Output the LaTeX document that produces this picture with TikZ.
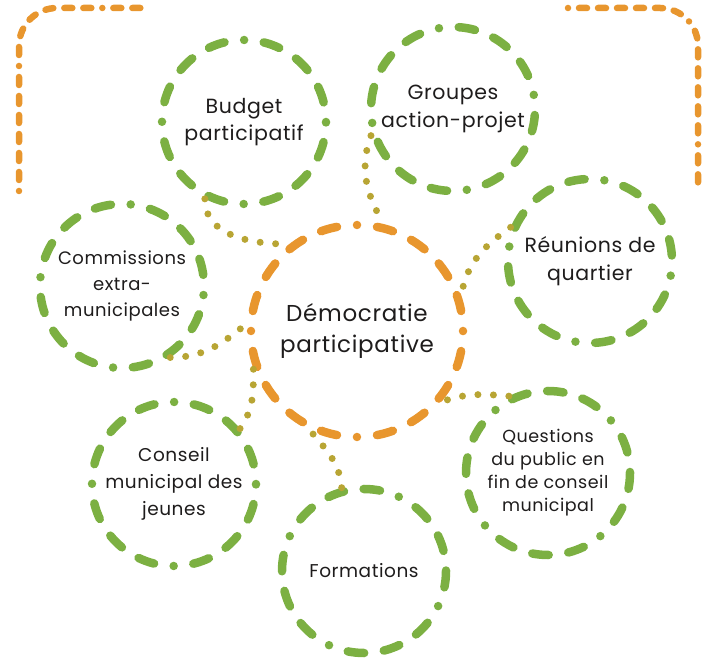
\documentclass[tikz,border=0pt]{standalone}
\usepackage{fontspec}
\setmainfont{Poppins}[LetterSpace=3.0]
\usepackage{xcolor}

\definecolor{leafgreen}{RGB}{124,176,66}
\definecolor{ochre}{RGB}{232,150,46}
\definecolor{linkdot}{RGB}{184,165,52}
\definecolor{inkgray}{RGB}{30,28,28}

\begin{document}
\begin{tikzpicture}[x=1pt, y=1pt,
        ring/.style={circle, draw=leafgreen, line width=8.5pt, line cap=round,
            minimum size=164pt, inner sep=0pt, align=center, text=inkgray,
            font=\fontsize{20.5}{27.5}\selectfont,
            dash pattern=on 0pt off 19.8pt on 16.5pt off 19.8pt on 16.5pt off 19.8pt on 16.5pt off 19.8pt},
        hub/.style={ring, draw=ochre, minimum size=212pt, font=\fontsize{23}{31}\selectfont,
            dash pattern=on 0pt off 20.1pt on 16.5pt off 20.1pt on 16.5pt off 20.1pt on 16.5pt off 20.1pt on 16.5pt off 20.1pt},
        link/.style={draw=linkdot, line width=7pt, line cap=round, dash pattern=on 0pt off 15.5pt},
        frame/.style={draw=ochre, line width=6.5pt, line cap=round, rounded corners=38pt,
            dash pattern=on 0pt off 11pt on 8pt off 11pt on 8pt off 11pt on 8pt off 11pt on 8pt off 11pt on 8pt off 11pt on 8pt off 11pt}
    ]
        \useasboundingbox (0,0) rectangle (711,658);

        % Corner brackets
        \draw[frame] (19,467) -- (19,650) -- (148,650);
        \draw[frame] (568,650) -- (698,650) -- (698,467);

        % Centre circle
        \node[hub] (hub) at (357,327) {Démocratie\\participative};

        % Surrounding circles
        \node[ring] (budget) at (244,536) {Budget\\participatif};
        \node[ring, dash phase=114.5pt] (groupes) at (453,549) {Groupes\\action-projet};
        \node[ring, dash phase=14.3pt] (reunions) at (590,397) {Réunions de\\quartier};
        \node[ring, dash phase=8.6pt, font=\fontsize{18}{26}\selectfont] (commissions) at (122,372)
            {Commissions\\extra-\\municipales};
        \node[ring, font=\fontsize{18.5}{27}\selectfont] (conseil) at (174,174) {Conseil\\municipal des\\jeunes};
        \node[ring, dash phase=35.8pt, font=\fontsize{18.5}{27}\selectfont] (formations) at (364,87) {Formations};
        \node[ring, dash phase=71.6pt, font=\fontsize{17.5}{23}\selectfont] (questions) at (548,185)
            {Questions\\du public en\\fin de conseil\\municipal};

        % Dotted links
        \draw[link] (budget.243) to[out=-90, in=180] (hub.128);
        \draw[link] (groupes.198) to[out=250, in=120] (hub.76);
        \draw[link] (reunions.157) to[out=215, in=80] (hub.19);
        \draw[link] (commissions.-56) to[out=0, in=220] (hub.176);
        \draw[link] (conseil.40) to[out=55, in=-90] (hub.200);
        \draw[link] (formations.105) to[out=95, in=-50] (hub.245);
        \draw[link] (questions.117) to[out=175, in=20] (hub.-40);
    \end{tikzpicture}
\end{document}
